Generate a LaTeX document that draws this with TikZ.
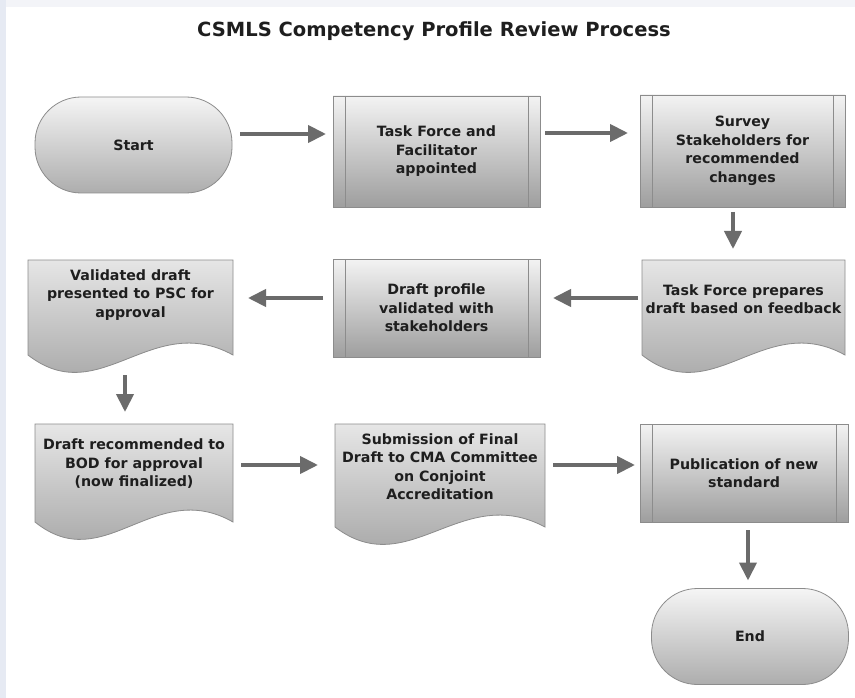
\documentclass[tikz,border=0pt]{standalone}
\usepackage{fontspec}
\setmainfont{DejaVu Sans}
\usetikzlibrary{calc,arrows.meta}

\definecolor{edge}{HTML}{8C8C8C}
\definecolor{arrowc}{HTML}{6B6B6B}
\definecolor{pagetop}{HTML}{F3F4F8}
\definecolor{pageleft}{HTML}{E6EAF3}
\definecolor{ink}{HTML}{1E1E1E}
\definecolor{shadetop}{HTML}{F3F3F3}
\definecolor{shadebot}{HTML}{9E9E9E}
\definecolor{doctop}{HTML}{E6E6E6}
\definecolor{docbot}{HTML}{9A9A9A}
\definecolor{termtop}{HTML}{F5F5F5}
\definecolor{termbot}{HTML}{ADADAD}

\pgfdeclarelayer{page}
\pgfdeclarelayer{shapes}
\pgfsetlayers{page,shapes,main}

% document symbol with a wavy lower edge, drawn behind the text node #1
% #1 node name, #2 width, #3 length of the side edges
\newcommand\wavedoc[3]{%
  \begin{pgfonlayer}{shapes}
    \draw[docbody] (#1.north west) -- (#1.north east) -- ($(#1.north east)+(0,#3)$)
      .. controls ($(#1.north west)+(0.6*#2,#3-45)$) and ($(#1.north west)+(0.35*#2,#3+56)$)
      .. ($(#1.north west)+(0,#3)$) -- cycle;
  \end{pgfonlayer}}

\begin{document}
\begin{tikzpicture}[x=1pt,y=-1pt,
  label text/.style={font=\bfseries\fontsize{14.2}{18.5}\selectfont, text=ink, align=center},
  terminal/.style={label text, rectangle, rounded corners=46pt, draw=edge, line width=0.8pt,
    top color=termtop, bottom color=termbot, inner sep=0pt, outer sep=0pt,
    minimum width=197pt, minimum height=96pt},
  predef/.style={label text, rectangle, draw=edge, line width=0.8pt,
    top color=shadetop, bottom color=shadebot, inner sep=0pt, outer sep=0pt,
    path picture={
      \draw[edge, line width=0.8pt] ([xshift=12pt]path picture bounding box.north west)
        -- ([xshift=12pt]path picture bounding box.south west);
      \draw[edge, line width=0.8pt] ([xshift=-12pt]path picture bounding box.north east)
        -- ([xshift=-12pt]path picture bounding box.south east);}},
  doctext/.style={label text, rectangle, inner sep=0pt, outer sep=0pt},
  docbody/.style={draw=edge, line width=0.8pt, top color=doctop, bottom color=docbot},
  flow/.style={draw=arrowc, line width=4pt, -{Triangle[length=18pt,width=17pt]}}]

\useasboundingbox (0,0) rectangle (855,698);
\begin{pgfonlayer}{page}
  \fill[white] (0,0) rectangle (855,698);
  \fill[pagetop] (0,0) rectangle (855,7);
  \fill[pageleft] (0,0) rectangle (6,698);
\end{pgfonlayer}

% title
\node[font=\bfseries\fontsize{19.5}{23}\selectfont, text=ink] (title) at (434,31)
  {CSMLS Competency Profile Review Process};

% first row
\node[terminal] (start) at (133.5,145) {Start};
\node[predef, minimum width=207pt, minimum height=111pt] (task) at (436.5,151.5)
  {Task Force and\\Facilitator\\appointed};
\node[predef, minimum width=205pt, minimum height=112pt] (survey) at (742.5,151)
  {Survey\\Stakeholders for\\recommended\\changes};

% second row
\node[doctext, minimum width=203pt, minimum height=78pt] (prep) at (743.5,299)
  {Task Force prepares\\draft based on feedback};
\wavedoc{prep}{203}{95}
\node[predef, minimum width=207pt, minimum height=98pt] (valid) at (436.5,308)
  {Draft profile\\validated with\\stakeholders};
\node[doctext, minimum width=205pt, minimum height=70pt] (present) at (130.5,295)
  {Validated draft\\presented to PSC for\\approval};
\wavedoc{present}{205}{95}

% third row
\node[doctext, minimum width=198pt, minimum height=80pt] (rec) at (134,464)
  {Draft recommended to\\BOD for approval\\(now finalized)};
\wavedoc{rec}{198}{98}
\node[doctext, minimum width=210pt, minimum height=85pt] (subm) at (440,466.5)
  {Submission of Final\\Draft to CMA Committee\\on Conjoint\\Accreditation};
\wavedoc{subm}{210}{103}
\node[predef, minimum width=208pt, minimum height=98pt] (pub) at (744,473)
  {Publication of new\\standard};
\node[terminal] (end) at (750,636.5) {End};

% connectors
\coordinate (a1) at ($(start.east)+(8,-11)$);
\draw[flow, shorten >=7pt] (a1) -- (a1 -| task.west);
\coordinate (a2) at ($(task.east)+(5,-18.5)$);
\draw[flow, shorten >=12pt] (a2) -- (a2 -| survey.west);
\coordinate (a3) at ($(survey.south)+(-9.5,5)$);
\draw[flow, shorten >=11pt] (a3) -- (a3 |- prep.north);
\coordinate (a4) at ($(prep.west)+(-4,-1)$);
\draw[flow, shorten >=13pt] (a4) -- (a4 -| valid.east);
\coordinate (a5) at ($(valid.west)+(-10,-10)$);
\draw[flow, shorten >=15pt] (a5) -- (a5 -| present.east);
\coordinate (a6) at ($(present.north)+(-5.5,115)$);
\draw[flow, shorten >=12pt] (a6) -- (a6 |- rec.north);
\coordinate (a7) at ($(rec.east)+(8,1)$);
\draw[flow, shorten >=17pt] (a7) -- (a7 -| subm.west);
\coordinate (a8) at ($(subm.east)+(8,-1.5)$);
\draw[flow, shorten >=5pt] (a8) -- (a8 -| pub.west);
\coordinate (a9) at ($(pub.south)+(4,8)$);
\draw[flow, shorten >=8pt] (a9) -- (a9 |- end.north);
\end{tikzpicture}
\end{document}
